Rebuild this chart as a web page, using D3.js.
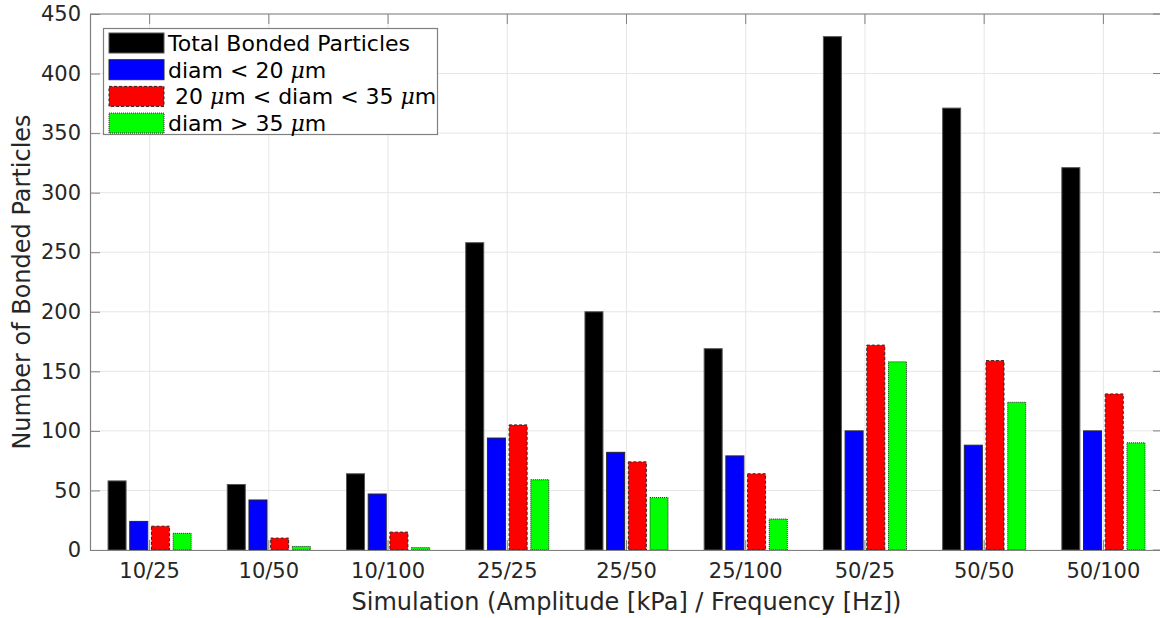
<!DOCTYPE html>
<html>
<head>
<meta charset="utf-8">
<script src="https://cdn.jsdelivr.net/npm/d3@7"></script>
<style>
  html, body { margin: 0; padding: 0; background: #fff; }
  svg { display: block; font-family: "DejaVu Sans", sans-serif; }
</style>
</head>
<body>
<svg id="chart" width="1160" height="618"></svg>
<script>
// Simulation cases (amplitude kPa / frequency Hz)
const categories = ["10/25", "10/50", "10/100", "25/25", "25/50", "25/100", "50/25", "50/50", "50/100"];

// Bonded particle counts per size class
const totalBonded = [58, 55, 64, 258, 200, 169, 431, 371, 321];
const diamSmall   = [24, 42, 47, 94, 82, 79, 100, 88, 100];
const diamMedium  = [20, 10, 15, 105, 74, 64, 172, 159, 131];
const diamLarge   = [14, 3, 2, 59, 44, 26, 158, 124, 90];

const yTicks = [0, 50, 100, 150, 200, 250, 300, 350, 400, 450];

const seriesNames = ["total", "small", "medium", "large"];
const seriesValues = [totalBonded, diamSmall, diamMedium, diamLarge];
const seriesStyle = {
  total:  { fill: "#000000", stroke: "#555555", dash: null },
  small:  { fill: "#0000ff", stroke: "#262626", dash: null },
  medium: { fill: "#ff0000", stroke: "#262626", dash: "3,2" },
  large:  { fill: "#00ff00", stroke: "#262626", dash: "1,1" }
};

const svg = d3.select("#chart");
const margin = { left: 90, right: -3, top: 14, bottom: 68 };
const W = 1160, H = 618;
const x0 = margin.left, x1 = W - margin.right;
const yTop = margin.top, yBot = H - margin.bottom;

const x = d3.scaleBand().domain(categories).range([x0, x1]).paddingInner(0).paddingOuter(0);
const bw = x.bandwidth();
const xs = d3.scaleBand().domain(seriesNames)
  .range([-0.3485 * bw, 0.3485 * bw]).paddingInner(0.17).paddingOuter(0);
const y = d3.scaleLinear().domain([0, 450]).range([yBot, yTop]);

// grid
const grid = svg.append("g");
grid.selectAll("line.gy").data(yTicks).join("line")
  .attr("x1", x0).attr("x2", x1)
  .attr("y1", d => y(d)).attr("y2", d => y(d))
  .attr("stroke", "#e6e6e6").attr("stroke-width", 1);
grid.selectAll("line.gx").data(categories).join("line")
  .attr("x1", d => x(d) + bw / 2).attr("x2", d => x(d) + bw / 2)
  .attr("y1", yTop).attr("y2", yBot)
  .attr("stroke", "#e6e6e6").attr("stroke-width", 1);

// bars
const rows = [];
categories.forEach((c, i) => {
  seriesNames.forEach((s, j) => rows.push({ cat: c, series: s, value: seriesValues[j][i] }));
});
svg.append("g").selectAll("rect").data(rows).join("rect")
  .attr("x", d => x(d.cat) + bw / 2 + xs(d.series))
  .attr("width", xs.bandwidth())
  .attr("y", d => y(d.value))
  .attr("height", d => y(0) - y(d.value))
  .attr("fill", d => seriesStyle[d.series].fill)
  .attr("stroke", d => seriesStyle[d.series].stroke)
  .attr("stroke-width", 1)
  .attr("stroke-dasharray", d => seriesStyle[d.series].dash);

// axes
const tickColor = "#262626";
const axisColor = "#808080";
const yAxis = d3.axisLeft(y).tickValues(yTicks).tickSizeInner(-10).tickSizeOuter(0).tickPadding(9);
const gy = svg.append("g").attr("transform", `translate(${x0},0)`).call(yAxis);
const xAxis = d3.axisBottom(x).tickSizeInner(-10).tickSizeOuter(0).tickPadding(13);
const gx = svg.append("g").attr("transform", `translate(0,${yBot})`).call(xAxis);
[gy, gx].forEach(g => {
  g.select(".domain").attr("stroke", axisColor).attr("stroke-width", 1.2);
  g.selectAll(".tick line").attr("stroke", axisColor);
  g.selectAll(".tick text").attr("fill", tickColor).style("font-size", "21px")
    .style("font-family", "DejaVu Sans, sans-serif");
});

// box: top and right with inward ticks
svg.append("line").attr("x1", x0).attr("x2", x1).attr("y1", yTop).attr("y2", yTop)
  .attr("stroke", axisColor).attr("stroke-width", 1.2);
svg.append("g").selectAll("line").data(categories).join("line")
  .attr("x1", d => x(d) + bw / 2).attr("x2", d => x(d) + bw / 2)
  .attr("y1", yTop).attr("y2", yTop + 10).attr("stroke", axisColor);
svg.append("g").selectAll("line").data(yTicks).join("line")
  .attr("x1", x1 - 10).attr("x2", x1)
  .attr("y1", d => y(d)).attr("y2", d => y(d)).attr("stroke", axisColor);

// axis titles
svg.append("text")
  .attr("x", (x0 + x1) / 2).attr("y", 610)
  .attr("text-anchor", "middle").attr("fill", tickColor)
  .style("font-size", "24px")
  .text("Simulation (Amplitude [kPa] / Frequency [Hz])");
svg.append("text")
  .attr("transform", `translate(30,${(yTop + yBot) / 2}) rotate(-90)`)
  .attr("text-anchor", "middle").attr("fill", tickColor)
  .style("font-size", "24px")
  .text("Number of Bonded Particles");

// legend
const legendItems = [
  { series: "total", parts: [["Total Bonded Particles", false]] },
  { series: "small", parts: [["diam < 20 ", false], ["μ", true], ["m", false]] },
  { series: "medium", parts: [[" 20 ", false], ["μ", true], ["m < diam < 35 ", false], ["μ", true], ["m", false]] },
  { series: "large", parts: [["diam > 35 ", false], ["μ", true], ["m", false]] }
];
const lg = svg.append("g");
lg.append("rect").attr("x", 103.5).attr("y", 28.5).attr("width", 334).attr("height", 106)
  .attr("fill", "#fff").attr("stroke", "#808080").attr("stroke-width", 1.2);
legendItems.forEach((it, i) => {
  const cy = 43 + i * 26.7;
  const st = seriesStyle[it.series];
  lg.append("rect").attr("x", 109).attr("y", cy - 10).attr("width", 55).attr("height", 20)
    .attr("fill", st.fill).attr("stroke", st.stroke).attr("stroke-dasharray", st.dash);
  const t = lg.append("text").attr("x", 168).attr("y", cy + 8).attr("fill", "#000")
    .style("font-size", "22px").attr("xml:space", "preserve");
  it.parts.forEach(([s, ital]) => {
    t.append("tspan").style("font-style", ital ? "italic" : "normal")
      .style("font-family", ital ? "DejaVu Serif, serif" : null).text(s);
  });
});
</script>
</body>
</html>
